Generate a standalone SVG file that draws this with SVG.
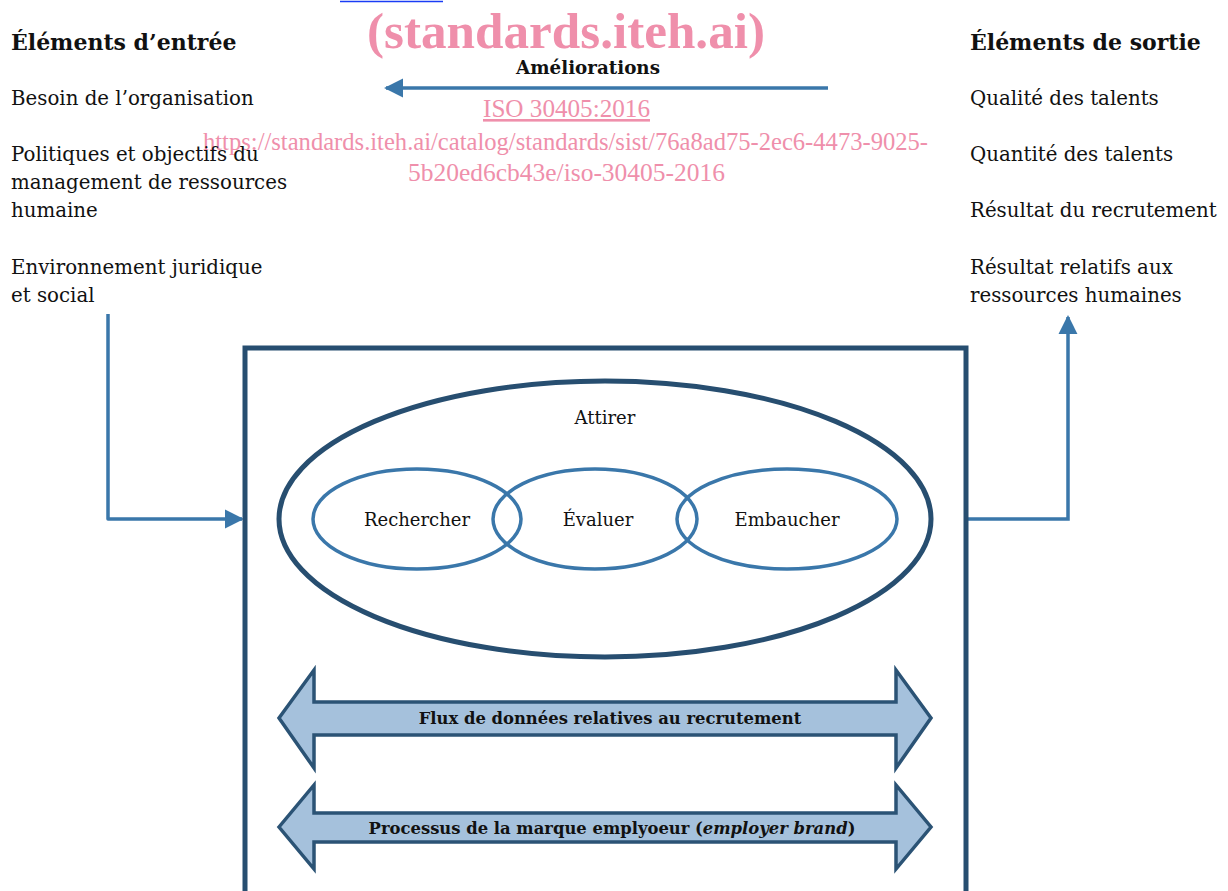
<svg xmlns="http://www.w3.org/2000/svg" width="1228" height="891" viewBox="0 0 1228 891">
<style>
.t{font-family:"DejaVu Serif","Liberation Serif",serif;font-size:19.8px;fill:#111}
.h{font-family:"DejaVu Serif","Liberation Serif",serif;font-size:22px;font-weight:bold;fill:#111}
.b{font-family:"DejaVu Serif","Liberation Serif",serif;font-size:16.4px;font-weight:bold;fill:#111}
.c{font-family:"DejaVu Serif","Liberation Serif",serif;font-size:18px;fill:#111;text-anchor:middle}
.wm{font-family:"Liberation Serif",serif;fill:#ef8fab}
.conn{fill:none;stroke:#3a77aa;stroke-width:3.5}
.box{fill:none;stroke:#274e70;stroke-width:5}
.inner{fill:none;stroke:#3a77aa;stroke-width:3.5}
.dbl{fill:#a5c1dc;stroke:#2b5375;stroke-width:3.5;stroke-linejoin:miter}
</style>
<defs>
<marker id="ah" viewBox="0 0 10 10" refX="9" refY="5" markerWidth="5.5" markerHeight="5.5" orient="auto" markerUnits="strokeWidth">
<path d="M0,0 L10,5 L0,10 z" fill="#3a77aa"/>
</marker>
</defs>
<rect width="1228" height="891" fill="#fff"/>
<line x1="340" y1="1.5" x2="443" y2="1.5" stroke="#1a3cf5" stroke-width="1.5"/>
<g id="watermark">
<text class="wm" x="367" y="48" font-size="50" font-weight="bold" textLength="398" lengthAdjust="spacingAndGlyphs">(standards.iteh.ai)</text>
<text class="wm" x="483" y="117" font-size="26" textLength="167" lengthAdjust="spacingAndGlyphs" text-decoration="underline">ISO 30405:2016</text>
<text class="wm" x="203" y="150" font-size="26" textLength="725" lengthAdjust="spacingAndGlyphs">https://standards.iteh.ai/catalog/standards/sist/76a8ad75-2ec6-4473-9025-</text>
<text class="wm" x="408" y="181" font-size="26" textLength="317" lengthAdjust="spacingAndGlyphs">5b20ed6cb43e/iso-30405-2016</text>
</g>
<g id="inputs">
<text class="h" x="11" y="50">Éléments d’entrée</text>
<text class="t" x="11" y="105">Besoin de l’organisation</text>
<text class="t" x="11" y="161">Politiques et objectifs du</text>
<text class="t" x="11" y="189">management de ressources</text>
<text class="t" x="11" y="217">humaine</text>
<text class="t" x="11" y="274">Environnement juridique</text>
<text class="t" x="11" y="302">et social</text>
</g>
<g id="outputs">
<text class="h" x="970" y="50">Éléments de sortie</text>
<text class="t" x="970" y="105">Qualité des talents</text>
<text class="t" x="970" y="161">Quantité des talents</text>
<text class="t" x="970" y="217">Résultat du recrutement</text>
<text class="t" x="970" y="274">Résultat relatifs aux</text>
<text class="t" x="970" y="302">ressources humaines</text>
</g>
<g id="ameliorations">
<text class="b" x="588" y="74" text-anchor="middle" style="font-size:18.3px">Améliorations</text>
</g>
<g id="connectors">
<path class="conn" d="M828,88 H386" marker-end="url(#ah)"/>
<path class="conn" d="M108,314 V519 H242" marker-end="url(#ah)" stroke-linejoin="round"/>
<path class="conn" d="M966,519 H1068 V317" marker-end="url(#ah)"/>
</g>
<g id="process-box">
<path class="box" d="M245,891 V348 H966 V891"/>
</g>
<g id="attirer">
<ellipse class="box" cx="605" cy="519" rx="326" ry="138"/>
<text class="c" x="605" y="424">Attirer</text>
</g>
<g id="rechercher">
<ellipse class="inner" cx="417" cy="519" rx="104" ry="50"/>
<text class="c" x="417" y="526">Rechercher</text>
</g>
<g id="evaluer">
<ellipse class="inner" cx="595" cy="519" rx="102" ry="50"/>
<text class="c" x="598" y="526">Évaluer</text>
</g>
<g id="embaucher">
<ellipse class="inner" cx="787" cy="519" rx="110" ry="50"/>
<text class="c" x="787" y="526">Embaucher</text>
</g>
<g id="flux">
<path class="dbl" d="M279,718 L314,670 V702 H896 V670 L931,718 L896,768 V735 H314 V768 Z"/>
<text class="b" x="610" y="724" text-anchor="middle">Flux de données relatives au recrutement</text>
</g>
<g id="marque">
<path class="dbl" d="M279,827 L314,785 V813 H896 V785 L931,827 L896,869 V842 H314 V869 Z"/>
<text class="b" x="612" y="834" text-anchor="middle">Processus de la marque emplyoeur (<tspan font-style="italic">employer brand</tspan>)</text>
</g>
</svg>
